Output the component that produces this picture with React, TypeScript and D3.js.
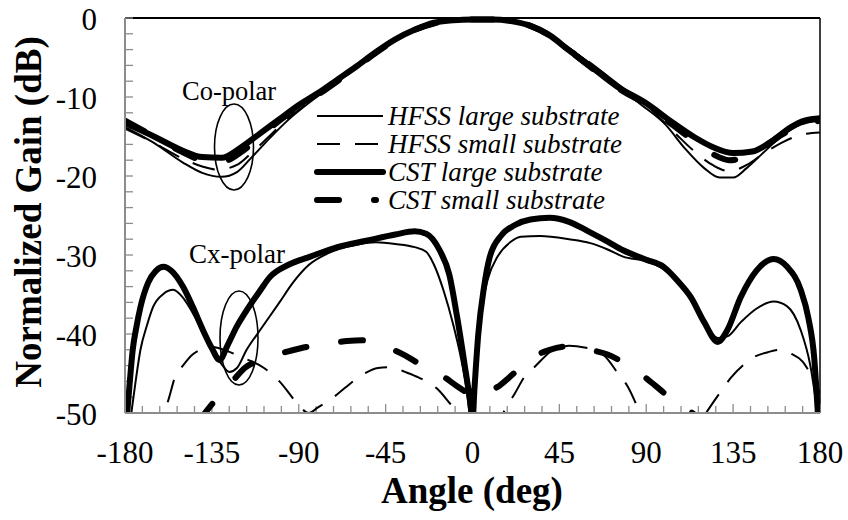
import React from "react";
import * as d3 from "d3";

// Tick values
const X_TICKS = [-180, -135, -90, -45, 0, 45, 90, 135, 180];
const Y_TICKS = [0, -10, -20, -30, -40, -50];

// Co-polar patterns: [angle (deg), normalized gain (dB)]
const hfssLargeCo: [number, number][] = [
  [-180, -13.8], [-165, -15.8], [-150, -18.3], [-140, -19.6], [-130, -20.1], [-122, -19.5],
  [-115, -17.8], [-105, -15.2], [-95, -12.8], [-85, -10.8], [-75, -9.0], [-65, -7.2],
  [-55, -5.2], [-45, -3.3], [-30, -1.4], [-15, -0.5], [0, -0.2], [15, -0.3], [30, -1.0],
  [45, -3.0], [60, -5.6], [75, -8.3], [85, -10.5], [100, -13.5], [110, -16.5], [120, -19.0],
  [128, -20.2], [135, -20.2], [142, -19.0], [150, -17.2], [160, -15.0], [170, -13.5], [180, -13.0],
];
const hfssSmallCo: [number, number][] = [
  [-180, -14.0], [-165, -15.8], [-150, -17.8], [-140, -18.8], [-132, -19.2], [-122, -18.6],
  [-115, -17.2], [-105, -14.9], [-95, -12.6], [-85, -10.7], [-75, -8.9], [-65, -7.0],
  [-55, -5.1], [-45, -3.3], [-30, -1.5], [-15, -0.6], [0, -0.3], [15, -0.3], [30, -1.0],
  [45, -3.0], [60, -5.5], [75, -8.3], [90, -11.0], [105, -14.6], [115, -16.9], [125, -18.7],
  [133, -19.4], [142, -18.6], [150, -17.3], [160, -15.8], [170, -14.8], [180, -14.5],
];
const cstLargeCo: [number, number][] = [
  [-180, -13.3], [-165, -15.0], [-150, -16.8], [-140, -17.6], [-130, -17.7], [-120, -16.4],
  [-110, -14.6], [-100, -12.8], [-90, -11.0], [-80, -9.5], [-70, -7.8], [-60, -6.1],
  [-50, -4.3], [-40, -2.7], [-30, -1.5], [-20, -0.6], [-10, -0.3], [0, -0.2], [10, -0.2],
  [20, -0.4], [30, -1.0], [40, -2.2], [50, -4.1], [60, -5.9], [75, -8.7], [90, -10.8],
  [104, -13.3], [115, -15.1], [125, -16.4], [135, -17.1], [145, -16.9], [155, -15.6],
  [165, -13.8], [172, -13.0], [180, -12.7],
];
const cstSmallCo: [number, number][] = [
  [-180, -13.0], [-165, -15.0], [-150, -17.0], [-140, -18.0], [-130, -18.2], [-120, -17.0],
  [-110, -15.0], [-100, -13.0], [-90, -11.2], [-80, -9.7], [-70, -8.0], [-60, -6.2],
  [-50, -4.4], [-40, -2.8], [-30, -1.5], [-20, -0.7], [-10, -0.3], [0, -0.2], [10, -0.2],
  [20, -0.4], [30, -1.0], [40, -2.2], [50, -4.1], [60, -6.0], [75, -8.8], [90, -11.0],
  [104, -13.6], [115, -15.6], [125, -17.3], [133, -18.0], [140, -17.7], [148, -16.8],
  [160, -14.8], [170, -13.6], [180, -13.0],
];

// Cross-polar patterns
const hfssLargeCx: [number, number][] = [
  [-177, -50.5], [-174.5, -46], [-172, -42], [-168.5, -38.8], [-165.5, -36.6], [-160, -34.9],
  [-155, -34.4], [-150, -35.4], [-145, -37.3], [-140, -39.6], [-135, -42], [-130, -43.8],
  [-126, -44.8], [-122, -44.3], [-117, -42.0], [-110, -39.5], [-100, -36], [-93, -33.5],
  [-85, -31.3], [-75, -29.8], [-60, -28.7], [-50, -28.4], [-40, -28.6], [-30, -29.0],
  [-24, -29.6], [-20, -31.2], [-15, -34.5], [-10, -38.8], [-6, -43], [-3, -47], [-1, -50.5],
  [0.5, -50.5], [2, -44], [4.5, -37.3], [8, -33], [13, -30.2], [20, -28.3], [25, -27.7],
  [35, -27.6], [50, -28.0], [61, -28.5], [70, -29.3], [78, -30.2], [90, -30.8], [99, -31.8],
  [106, -33.4], [113, -35.5], [120, -38.3], [127, -40.5], [132, -40.3], [139, -38.5],
  [147, -36.8], [156, -35.9], [163, -36.5], [170, -39.5], [175, -44], [179, -50.5],
];
const hfssSmallCx: [number, number][] = [
  [-166, -53], [-162, -50.5], [-158, -48.7], [-154, -45.4], [-150, -44], [-145, -42.6],
  [-140, -41.9], [-135, -41.6], [-130, -41.9], [-120, -42.9], [-108, -44.3], [-100, -46.0],
  [-91, -48.7], [-85, -50.0], [-80, -49.3], [-72, -48.0], [-66, -46.8], [-56, -45.0],
  [-49, -44.3], [-42, -44.2], [-35, -44.8], [-28, -45.5], [-18, -47.0], [-13, -48.4],
  [-8, -50], [-4, -52], [0, -55], [8, -55], [12, -52.5], [16, -50], [22, -47.5], [27, -45.4],
  [32, -44.2], [42, -42.0], [50, -41.5], [58, -41.7], [68, -42.7], [76, -45.2], [80, -46.5],
  [86, -49.6], [90, -52], [104, -56], [116, -52], [121, -50], [128, -47.5], [134, -45.5],
  [140, -44], [146, -42.9], [153, -42.3], [159, -42.0], [165, -42.5], [171, -43.5],
  [175, -45], [180, -47.5],
];
const cstLargeCx: [number, number][] = [
  [-179, -50.5], [-177.5, -46], [-176, -42], [-174, -39], [-172, -36.6], [-168, -33.5],
  [-164, -32], [-160, -31.5], [-156, -32], [-150, -34.0], [-145, -36.5], [-140, -39.3],
  [-135, -41.8], [-131, -43.3], [-127, -41.5], [-122, -39.0], [-117, -37.0], [-110, -34.5],
  [-105, -32.8], [-95, -31.2], [-84, -30.2], [-70, -29.0], [-55, -28.2], [-40, -27.4],
  [-30, -27.0], [-24, -27.3], [-17, -29.4], [-12, -32.5], [-8, -37.8], [-4, -44], [-1, -49],
  [0, -51], [1, -47], [3, -40], [6, -34], [9, -30.2], [15, -27.5], [22, -26.2], [30, -25.5],
  [40, -25.3], [50, -25.8], [60, -27.0], [70, -28.3], [78, -29.4], [90, -30.6], [99, -31.5],
  [106, -33.2], [113, -35.3], [120, -38.5], [127, -41.0], [132, -39.5], [139, -35.3],
  [147, -32.0], [156, -30.5], [163, -31.5], [170, -34.4], [174, -38], [177, -43], [179, -50.5],
];
const cstSmallCx: [number, number][] = [
  [-180, -62], [-160, -57], [-146, -52.5], [-139.5, -50.3], [-134, -48.6], [-129, -47],
  [-123, -45.6], [-118, -44.3], [-112, -43.5], [-105, -42.9], [-97, -42.3], [-89, -41.8],
  [-80, -41.4], [-74, -41.2], [-65, -40.9], [-57, -40.8], [-50, -41.2], [-43, -41.8],
  [-35, -42.7], [-28, -43.7], [-20, -44.7], [-15, -45.4], [-8, -46.6], [-3, -47.4], [0, -47.8],
  [3, -47.6], [8, -47.2], [13, -46.7], [19, -45.5], [25, -44.2], [31, -43.0], [40, -42.0],
  [47, -41.6], [54, -41.5], [61, -42.0], [70, -42.6], [76, -43.3], [83, -44.3], [89, -45.4],
  [95, -46.6], [102, -48.0], [108, -49.0], [115, -50.2], [125, -52], [150, -56], [180, -60],
];

const SERIES_NAMES = [
  "HFSS large substrate",
  "HFSS small substrate",
  "CST large substrate",
  "CST small substrate",
];

type Style = { width: number; dash?: string; cap: "butt" | "round" };
const STYLES: Style[] = [
  { width: 2, cap: "butt" },
  { width: 2, dash: "23 15", cap: "butt" },
  { width: 6, cap: "round" },
  { width: 6, dash: "22 35", cap: "round" },
];

const W = 848;
const H = 520;
const plot = { left: 125, right: 820, top: 18, bottom: 413 };
const FONT = "'Liberation Serif', 'Times New Roman', serif";

export default function App() {
  const x = d3.scaleLinear().domain([-180, 180]).range([plot.left, plot.right]);
  const y = d3.scaleLinear().domain([-50, 0]).range([plot.bottom, plot.top]);
  const line = d3
    .line<[number, number]>()
    .x((d) => x(d[0]))
    .y((d) => y(d[1]))
    .curve(d3.curveMonotoneX);

  const groups: [number, number][][][] = [
    [hfssLargeCo, hfssLargeCx],
    [hfssSmallCo, hfssSmallCx],
    [cstLargeCo, cstLargeCx],
    [cstSmallCo, cstSmallCx],
  ];

  const yMinor = d3.range(-50, 0.01, 2);
  const xMinor = d3.range(-180, 180.01, 9);

  const legendX0 = 317;
  const legendX1 = 383;
  const legendY0 = 116;
  const legendStep = 28;

  return (
    <svg
      width={W}
      height={H}
      style={{ position: "absolute", left: 0, top: 0, background: "#fff" }}
      fontFamily={FONT}
    >
      <defs>
        <clipPath id="plotClip">
          <rect x={plot.left} y={plot.top - 6} width={plot.right - plot.left} height={plot.bottom - plot.top + 6} />
        </clipPath>
      </defs>
      <rect width={W} height={H} fill="#fff" />

      {/* frame: grey axes on left/bottom, black border on top/right */}
      <line x1={plot.left} x2={plot.right} y1={plot.top} y2={plot.top} stroke="#000" strokeWidth={2} />
      <line x1={plot.right} x2={plot.right} y1={plot.top} y2={plot.bottom} stroke="#000" strokeWidth={1.5} />

      {yMinor.map((v) => (
        <line key={"yt" + v} x1={plot.left} x2={plot.left + 8} y1={y(v)} y2={y(v)} stroke="#8c8c8c" strokeWidth={1.3} />
      ))}
      {xMinor.map((v) => (
        <line
          key={"xt" + v}
          x1={x(v)}
          x2={x(v)}
          y1={plot.bottom}
          y2={plot.bottom - (v % 45 === 0 ? 9 : 7)}
          stroke="#8c8c8c"
          strokeWidth={1.3}
        />
      ))}

      {/* curves */}
      <g clipPath="url(#plotClip)" fill="none" stroke="#000" strokeLinejoin="round">
        {groups.map((pair, i) =>
          pair.map((data, j) => (
            <path
              key={`s${i}-${j}`}
              d={line(data) ?? ""}
              strokeWidth={STYLES[i].width}
              strokeDasharray={STYLES[i].dash}
              strokeLinecap={STYLES[i].cap}
            />
          ))
        )}
      </g>

      <line x1={plot.left} x2={plot.left} y1={plot.top} y2={plot.bottom} stroke="#8c8c8c" strokeWidth={2} />
      <line x1={plot.left} x2={plot.right} y1={plot.bottom} y2={plot.bottom} stroke="#8c8c8c" strokeWidth={2} />

      {/* tick labels */}
      {Y_TICKS.map((v) => (
        <text key={"yl" + v} x={97} y={y(v) + 12} fontSize={31} textAnchor="end" fill="#000">
          {v}
        </text>
      ))}
      {X_TICKS.map((v) => (
        <text key={"xl" + v} x={x(v)} y={463} fontSize={31} textAnchor="middle" fill="#000">
          {v}
        </text>
      ))}

      {/* axis titles */}
      <text x={472} y={503} fontSize={37} fontWeight="bold" textAnchor="middle">
        Angle (deg)
      </text>
      <text
        transform={`translate(41, 212) rotate(-90)`}
        fontSize={37}
        fontWeight="bold"
        textAnchor="middle"
      >
        Normalized Gain (dB)
      </text>

      {/* annotations */}
      <text x={182} y={100} fontSize={26.5}>Co-polar</text>
      <ellipse cx={234} cy={147} rx={19.5} ry={43} fill="none" stroke="#000" strokeWidth={1.6} />
      <text x={189} y={263} fontSize={27}>Cx-polar</text>
      <ellipse cx={239} cy={338} rx={19} ry={47} fill="none" stroke="#000" strokeWidth={1.6} />

      {/* legend */}
      {SERIES_NAMES.map((name, i) => {
        const ly = legendY0 + i * legendStep;
        const st = STYLES[i];
        const end = i === 3 ? 376 : legendX1;
        return (
          <g key={"lg" + i}>
            <line
              x1={legendX0}
              x2={end}
              y1={ly}
              y2={ly}
              stroke="#000"
              strokeWidth={st.width}
              strokeDasharray={st.dash}
              strokeLinecap={st.cap}
            />
            <text x={388} y={ly + 9} fontSize={27} fontStyle="italic">
              {name}
            </text>
          </g>
        );
      })}
    </svg>
  );
}
